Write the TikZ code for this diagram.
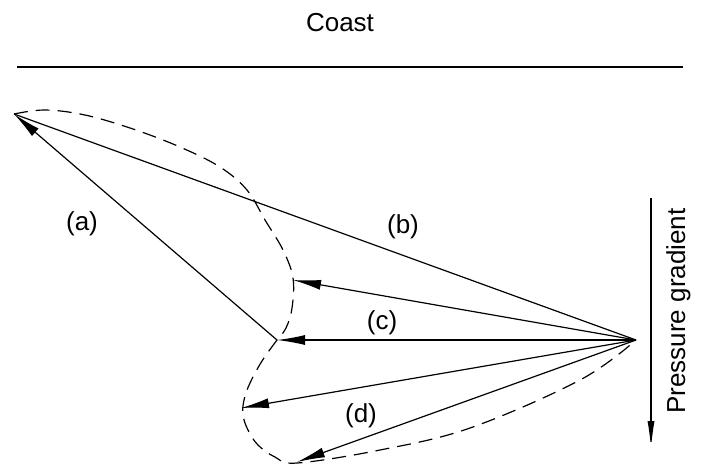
\documentclass[tikz,border=0pt]{standalone}
\usepackage{fontspec}
\setmainfont{Liberation Sans}
\usepackage{tikz}
\usetikzlibrary{positioning, arrows.meta, calc}

\begin{document}
\begin{tikzpicture}[x=0.5pt, y=-0.5pt,
        vector/.style={line width=0.6pt, -{Latex[length=14pt, width=5pt]}},
        resultant/.style={line width=0.6pt},
        envelope/.style={line width=0.6pt, dash pattern=on 7pt off 4pt},
        gradient/.style={line width=0.6pt, -{Latex[length=14pt, width=3.5pt]}},
        label/.style={font=\fontsize{13}{15}\selectfont, inner sep=0pt}
    ]
        \useasboundingbox (0,0) rectangle (704,463);

        % Coast line
        \node[label, anchor=base] (coast_label) at (340,31) {Coast};
        \coordinate (coast_w) at (17,67);
        \coordinate (coast_e) at (683,67);
        \draw[resultant] (coast_w) -- (coast_e);

        % Origin and vector tips
        \coordinate (O) at (636,340);
        \coordinate (A) at (14,114);
        \coordinate (C) at (277,340);
        \coordinate (P1) at (293,280);
        \coordinate (P2) at (241,408);
        \coordinate (P3) at (297,462);

        % Vectors
        \draw[resultant] (O) -- (A);
        \draw[vector] (C) -- (A);
        \draw[vector] (O) -- (P1);
        \draw[vector] (O) -- (C);
        \draw[vector] (O) -- (P2);
        \draw[vector] (O) -- (P3);

        % Dashed envelope
        \draw[envelope] plot[smooth, tension=0.6] coordinates {
            (14,114) (45,110) (85,115) (133,129) (180,147) (220,167)
            (247,190) (265,220) (283,250) (293,278) (292,308) (286,328) (277,340)};
        \draw[envelope] plot[smooth, tension=0.6] coordinates {
            (277,340) (262,361) (250,383) (244,400) (243,415) (248,430)
            (258,445) (275,457) (297,463) (380,450) (470,428) (580,380) (636,340)};

        % Labels
        \node[label] (a_label) at (82,224) {(a)};
        \node[label] (b_label) at (403,227) {(b)};
        \node[label] (c_label) at (382,323) {(c)};
        \node[label] (d_label) at (361,416) {(d)};

        % Pressure gradient
        \coordinate (pg_top) at (651,198);
        \coordinate (pg_bot) at (651,449);
        \draw[gradient] (pg_top) -- (pg_bot);
        \node[label, rotate=90, anchor=base] (pg_label) at (685,311) {Pressure gradient};
    \end{tikzpicture}
\end{document}
